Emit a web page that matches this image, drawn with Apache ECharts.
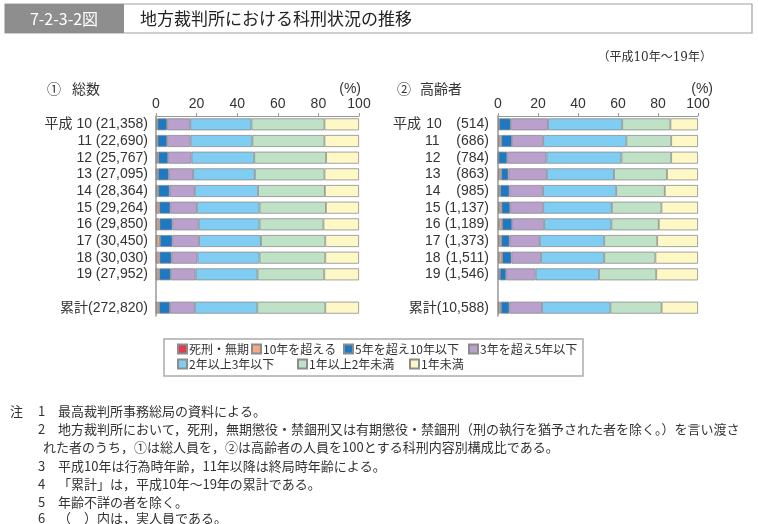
<!DOCTYPE html>
<html>
<head>
<meta charset="utf-8">
<script src="https://cdn.jsdelivr.net/npm/echarts@6/dist/echarts.min.js"></script>
<style>
html,body{margin:0;padding:0;background:#fff;}
#c{width:758px;height:524px;}
</style>
</head>
<body>
<div id="c"></div>
<script>
// ---------- data ----------
const years = ['10','11','12','13','14','15','16','17','18','19'];
const totalCounts = ['21,358','22,690','25,767','27,095','28,364','29,264','29,850','30,450','30,030','27,952'];
const totalCum = '272,820';
const elderCounts = ['514','686','784','863','985','1,137','1,189','1,373','1,511','1,546'];
const elderCum = '10,588';
const tickLabels = ['0','20','40','60','80','100'];

const seriesNames = ['死刑・無期','10年を超える','5年を超え10年以下','3年を超え5年以下','2年以上3年以下','1年以上2年未満','1年未満'];
const seriesColors = ['#e23a52','#f5a985','#1f79c2','#b9a0cd','#7fcdf3','#bfe1c6','#fdf8c6'];

// 総数 (H10..H19, 累計) %
const totDeath = [0.3,0.3,0.3,0.3,0.3,0.3,0.3,0.3,0.3,0.3,0.3];
const totOver10 = [0.4,0.5,0.8,0.7,0.8,1.3,1.4,1.6,1.4,1.3,1.2];
const tot5to10 = [4.8,4.7,4.9,5.3,5.6,5.5,6.4,6.2,6.0,5.7,5.4];
const tot3to5 = [11.4,11.5,11.5,12.0,12.4,13.0,12.9,13.1,12.7,12.2,12.2];
const tot2to3 = [30.1,30.5,30.9,30.4,31.2,30.9,30.0,30.5,30.6,30.5,30.8];
const tot1to2 = [36.0,35.5,35.4,34.3,32.9,32.7,31.5,31.7,32.4,32.9,33.5];
const totUnder1 = [17.0,17.0,16.2,17.0,16.8,16.3,17.5,16.6,16.6,17.1,16.6];

// 高齢者 (H10..H19, 累計) %
const eldDeath = [0.4,0.5,0.1,0.5,0.4,0.5,0.6,0.5,0.6,0.4,0.4];
const eldOver10 = [0.2,1.1,0.1,1.1,0.7,1.2,1.4,1.1,1.4,0.5,1.0];
const eld5to10 = [5.8,5.4,4.4,3.6,4.6,4.4,5.1,4.2,4.7,3.2,4.3];
const eld3to5 = [18.6,15.6,19.6,19.2,16.8,16.5,16.0,15.1,14.8,14.7,16.3];
const eld2to3 = [37.1,41.6,37.5,33.6,36.6,34.3,33.6,32.2,31.6,31.7,34.2];
const eld1to2 = [24.1,22.4,24.9,26.5,24.3,24.8,23.7,26.5,25.6,28.6,25.6];
const eldUnder1 = [13.8,13.4,13.4,15.5,16.6,18.3,19.6,20.4,21.3,20.9,18.2];

const notes = [
  ['注','1','最高裁判所事務総局の資料による。'],
  ['','2','地方裁判所において，死刑，無期懲役・禁錮刑又は有期懲役・禁錮刑（刑の執行を猶予された者を除く。）を言い渡さ'],
  ['','','れた者のうち，①は総人員を，②は高齢者の人員を100とする科刑内容別構成比である。'],
  ['','3','平成10年は行為時年齢，11年以降は終局時年齢による。'],
  ['','4','「累計」は，平成10年～19年の累計である。'],
  ['','5','年齢不詳の者を除く。'],
  ['','6','（　）内は，実人員である。']
];

// ---------- build ----------
const cats = years.concat(['gap','cum']);
function withGap(arr){ return arr.slice(0,10).concat(['-', arr[10]]); }
const totSets = [totDeath,totOver10,tot5to10,tot3to5,tot2to3,tot1to2,totUnder1];
const eldSets = [eldDeath,eldOver10,eld5to10,eld3to5,eld2to3,eld1to2,eldUnder1];

const FONT = '"Liberation Sans","Noto Sans CJK JP",sans-serif';
const JFONT = '"Noto Sans CJK JP","Liberation Sans",sans-serif';

function xAxisCfg(gi){
  return {
    type:'value', gridIndex:gi, position:'top', min:0, max:100, interval:20,
    axisLine:{show:true, lineStyle:{color:'#999', width:1}},
    axisTick:{show:true, length:3, lineStyle:{color:'#999'}},
    splitLine:{show:false},
    axisLabel:{margin:5, color:'#333', fontSize:14, fontFamily:FONT,
      formatter:function(v){ return tickLabels[Math.round(v/20)]; }}
  };
}

const leftRich = {
  a:{fontSize:14, fontFamily:FONT, color:'#333'}
};
const rightRich = {
  a:{fontSize:14, fontFamily:FONT, color:'#333'},
  y:{fontSize:14, fontFamily:FONT, color:'#333', width:18, align:'left'},
  c:{fontSize:14, fontFamily:FONT, color:'#333', width:46, align:'right'}
};

function yAxisCfg(gi, side){
  return {
    type:'category', gridIndex:gi, data:cats, inverse:true,
    axisLine:{show:true, lineStyle:{color:'#999', width:1.5}},
    axisTick:{show:false},
    axisLabel:{
      margin: side==='L' ? 8 : 9,
      interval:0,
      rich: side==='L' ? leftRich : rightRich,
      formatter:function(v, i){
        if (v==='gap') return '';
        if (side==='L'){
          if (v==='cum') return '{a|累計(' + totalCum + ')}';
          return '{a|' + (i===0 ? '平成 ' : '') + v + ' (' + totalCounts[i] + ')}';
        } else {
          if (v==='cum') return '{a|累計(' + elderCum + ')}';
          return (i===0 ? '{a|平成 }' : '') + '{y|' + v + '}{c|(' + elderCounts[i] + ')}';
        }
      }
    }
  };
}

const series = [];
seriesNames.forEach(function(n, k){
  series.push({
    name:n, type:'bar', stack:'L', xAxisIndex:0, yAxisIndex:0, barWidth:12,
    data:withGap(totSets[k]),
    itemStyle:{color:seriesColors[k], borderColor:'#8c8c8c', borderWidth:0.8},
    emphasis:{disabled:true}
  });
  series.push({
    name:n, type:'bar', stack:'R', xAxisIndex:1, yAxisIndex:1, barWidth:12,
    data:withGap(eldSets[k]),
    itemStyle:{color:seriesColors[k], borderColor:'#8c8c8c', borderWidth:0.8},
    emphasis:{disabled:true}
  });
});

// legend positions
const legendPos = [[177,343],[251,343],[343,343],[468,343],[177,358],[297,358],[409,358]];
const legends = seriesNames.map(function(n, k){
  return {
    data:[n], left:legendPos[k][0], top:legendPos[k][1], padding:0,
    itemWidth:9, itemHeight:9, itemGap:0, icon:'rect', selectedMode:false,
    textStyle:{fontSize:12, fontFamily:JFONT, color:'#333', padding:[0,0,0,-3]}
  };
});

// graphics
const graphics = [
  {type:'rect', shape:{x:5, y:4, width:747, height:29}, style:{fill:'#fff', stroke:'#a0a0a0', lineWidth:1.2}},
  {type:'rect', shape:{x:5, y:4, width:119, height:29}, style:{fill:'#8e8e8e'}},
  {type:'text', x:64, y:19, style:{text:'7-2-3-2図', fill:'#fff', font:'16px "Liberation Sans Narrow","Noto Sans CJK JP",sans-serif', textAlign:'center', textVerticalAlign:'middle'}},
  {type:'text', x:140, y:19, style:{text:'地方裁判所における科刑状況の推移', fill:'#222', font:'17px "Noto Sans CJK JP",sans-serif', textVerticalAlign:'middle'}},
  {type:'text', x:712, y:58, style:{text:'（平成10年～19年）', fill:'#333', font:'12px "DejaVu Serif","Noto Sans CJK JP",serif', textAlign:'right', textVerticalAlign:'middle'}},
  {type:'text', x:47, y:89, style:{text:'①', fill:'#333', font:'14px "Noto Sans CJK JP",sans-serif', textVerticalAlign:'middle'}},
  {type:'text', x:72, y:89, style:{text:'総数', fill:'#333', font:'14px "Noto Sans CJK JP",sans-serif', textVerticalAlign:'middle'}},
  {type:'text', x:361, y:89, style:{text:'(%)', fill:'#333', font:'14px "Liberation Sans",sans-serif', textAlign:'right', textVerticalAlign:'middle'}},
  {type:'text', x:397, y:89, style:{text:'②', fill:'#333', font:'14px "Noto Sans CJK JP",sans-serif', textVerticalAlign:'middle'}},
  {type:'text', x:420, y:89, style:{text:'高齢者', fill:'#333', font:'14px "Noto Sans CJK JP",sans-serif', textVerticalAlign:'middle'}},
  {type:'text', x:713, y:89, style:{text:'(%)', fill:'#333', font:'14px "Liberation Sans",sans-serif', textAlign:'right', textVerticalAlign:'middle'}},
  {type:'rect', shape:{x:164, y:339, width:419, height:37}, style:{fill:'none', stroke:'#aaa', lineWidth:1.5}}
];
const noteY = [411,429,447,466,484,502,518];
notes.forEach(function(r, i){
  const f = '13px "Noto Sans CJK JP",serif';
  if (r[0]) graphics.push({type:'text', x:10, y:noteY[i], style:{text:r[0], fill:'#333', font:f, textVerticalAlign:'middle'}});
  if (r[1]) graphics.push({type:'text', x:38, y:noteY[i], style:{text:r[1], fill:'#333', font:f, textVerticalAlign:'middle'}});
  graphics.push({type:'text', x:r[1] ? 58 : 43, y:noteY[i], style:{text:r[2], fill:'#333', font:f, textVerticalAlign:'middle'}});
});

const chart = echarts.init(document.getElementById('c'), null, {renderer:'canvas'});
chart.setOption({
  animation:false,
  backgroundColor:'#fff',
  grid:[
    {left:156, top:116, width:203, height:200},
    {left:498, top:116, width:200, height:200}
  ],
  xAxis:[xAxisCfg(0), xAxisCfg(1)],
  yAxis:[yAxisCfg(0,'L'), yAxisCfg(1,'R')],
  legend:legends,
  series:series,
  graphic:graphics
});
</script>
</body>
</html>
